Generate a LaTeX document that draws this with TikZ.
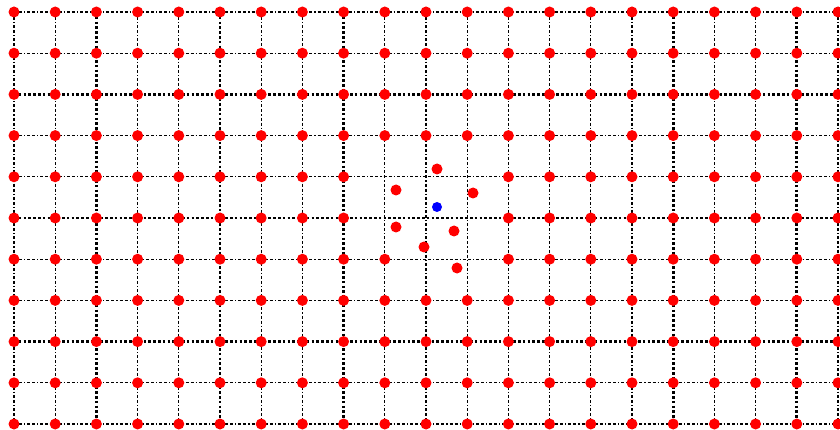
\documentclass[tikz,border=0pt]{standalone}
\begin{document}
\begin{tikzpicture}[
    x=1pt, y=-1pt,
    thinline/.style={line width=1.25pt, dash pattern=on 3pt off 2pt on 3pt off 2pt on 1.2pt off 2pt},
    thickline/.style={line width=2.8pt, dash pattern=on 2.6pt off 2.2pt},
    dot/.style={circle, fill=red, inner sep=0pt, minimum size=11pt},
    bluedot/.style={circle, fill=blue, inner sep=0pt, minimum size=10pt},
  ]
    \useasboundingbox (0,0) rectangle (840,430);
    \clip (0,0) rectangle (840,430);

    % === grid points ===
    \foreach \i in {0,...,20} {
      \foreach \j in {0,...,10} {
        \coordinate (g-\i-\j) at (14+41.2*\i, 12+41.2*\j);
      }
    }

    % === grid lines ===
    \foreach \j in {0,1,3,4,6,7,9,10} {
      \draw[thinline] (g-0-\j) -- (g-20-\j);
    }
    \foreach \i in {0,1,3,4,6,7,9,10,11,12,13,14,15,17,18,20} {
      \draw[thinline] (g-\i-0) -- (g-\i-10);
    }
    \foreach \j in {2,5,8} {
      \draw[thickline] (g-0-\j) -- (g-20-\j);
    }
    \foreach \i in {2,5,8,16,19} {
      \draw[thickline] (g-\i-0) -- (g-\i-10);
    }

    % === regular dots (holes near the centre) ===
    \foreach \i in {0,...,20} {
      \foreach \j in {0,...,10} {
        \pgfmathtruncatemacro\hole{(\i>8)*(\i<12)*(\j>3)*(\j<6)+(\i>9)*(\i<12)*(\j==6)}
        \ifnum\hole=0
          \node[dot] (p-\i-\j) at (g-\i-\j) {};
        \fi
      }
    }

    % === displaced dots ===
    \node[dot] (m1) at (437,169) {};
    \node[dot] (m2) at (396,190) {};
    \node[dot] (m3) at (473,193) {};
    \node[dot] (m4) at (396,227) {};
    \node[dot] (m5) at (454,231) {};
    \node[dot] (m6) at (424,247) {};
    \node[dot] (m7) at (457,268) {};
    \node[bluedot] (c) at (437,207) {};
\end{tikzpicture}
\end{document}
